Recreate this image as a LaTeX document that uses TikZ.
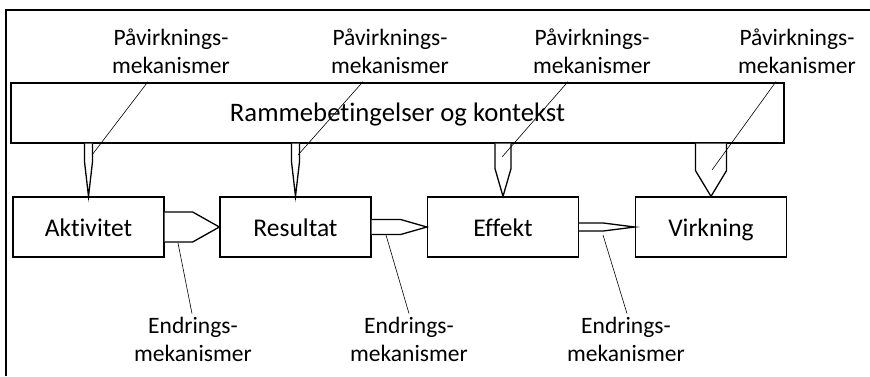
\documentclass[tikz,border=0pt]{standalone}
\usepackage{fontspec}
\setmainfont{Carlito}[Ligatures=NoCommon]
\usetikzlibrary{calc}

% vertical pencil arrow from the context bar down onto a box
\newcommand\vpencil[3]{%
  \path[pencil] ($(#1.north |- ctx.south)+(-#2,0)$) -- ++(0,#3) -- (#1.north)
    -- ($(#1.north |- ctx.south)+(#2,#3)$) -- ++(0,-#3);}
% horizontal pencil arrow from one box to the next
\newcommand\hpencil[4]{%
  \path[pencil] ($(#1.east)+(0,-#3)$) -- ++(#4,0) -- (#2.west)
    -- ($(#1.east)+(#4,#3)$) -- ++(-#4,0);}

\begin{document}
\begin{tikzpicture}[x=1pt,y=-1pt,
  box/.style={draw,line width=1.3pt,minimum width=151pt,minimum height=60pt,inner sep=0pt,
    font=\fontsize{25.5}{30}\selectfont,text height=19pt,text depth=0pt},
  lbl/.style={align=center,inner sep=0pt,font=\fontsize{23.5}{28}\selectfont},
  pencil/.style={draw,line width=1.3pt,line join=miter,fill=white},
  leader/.style={draw,line width=0.6pt}]
\useasboundingbox (0,0) rectangle (870,376);

% outer frame (left and top edges)
\draw[line width=1.5pt] (6,376) -- (6,10) -- (870,10);

% context bar and the four stages
\node[box,minimum width=773pt,font=\fontsize{26.7}{32}\selectfont,text height=17.4pt]
  (ctx) at (397.5,113) {Rammebetingelser og kontekst};
\node[box] (akt) at (88.5,227) {Aktivitet};
\node[box] (res) at (295.5,227) {Resultat};
\node[box] (eff) at (503,227) {Effekt};
\node[box] (vir) at (711,227) {Virkning};

% influence arrows from the context
\vpencil{akt}{4}{18}
\vpencil{res}{4}{18}
\vpencil{eff}{8}{25}
\vpencil{vir}{15.5}{27}

% change arrows between stages
\hpencil{akt}{res}{15}{28}
\hpencil{res}{eff}{7.5}{29}
\hpencil{eff}{vir}{4}{24}

% labels
\node[lbl] (p1) at (171,51) {Påvirknings-\\mekanismer};
\node[lbl] (p2) at (390,51) {Påvirknings-\\mekanismer};
\node[lbl] (p3) at (592,51) {Påvirknings-\\mekanismer};
\node[lbl] (p4) at (797,51) {Påvirknings-\\mekanismer};
\node[lbl] (e1) at (193,339) {Endrings-\\mekanismer};
\node[lbl] (e2) at (409,339) {Endrings-\\mekanismer};
\node[lbl] (e3) at (626,339) {Endrings-\\mekanismer};

% leader lines
\coordinate (q1) at (92,155);
\coordinate (q2) at (298,155);
\coordinate (q3) at (502,157);
\coordinate (q4) at (712,170);
\draw[leader] (p1.south -| 148,0) ++(0,8) -- (q1);
\draw[leader] (p2.south -| 363,0) ++(0,8) -- (q2);
\draw[leader] (p3.south -| 568,0) ++(0,8) -- (q3);
\draw[leader] (p4.south -| 776,0) ++(0,8) -- (q4);
\coordinate (r1) at (178,243);
\coordinate (r2) at (386,235);
\coordinate (r3) at (603,235);
\draw[leader] (r1) -- ([yshift=3pt]e1.north -| 192,0);
\draw[leader] (r2) -- ([yshift=3pt]e2.north -| 409,0);
\draw[leader] (r3) -- ([yshift=3pt]e3.north -| 627,0);
\end{tikzpicture}
\end{document}
